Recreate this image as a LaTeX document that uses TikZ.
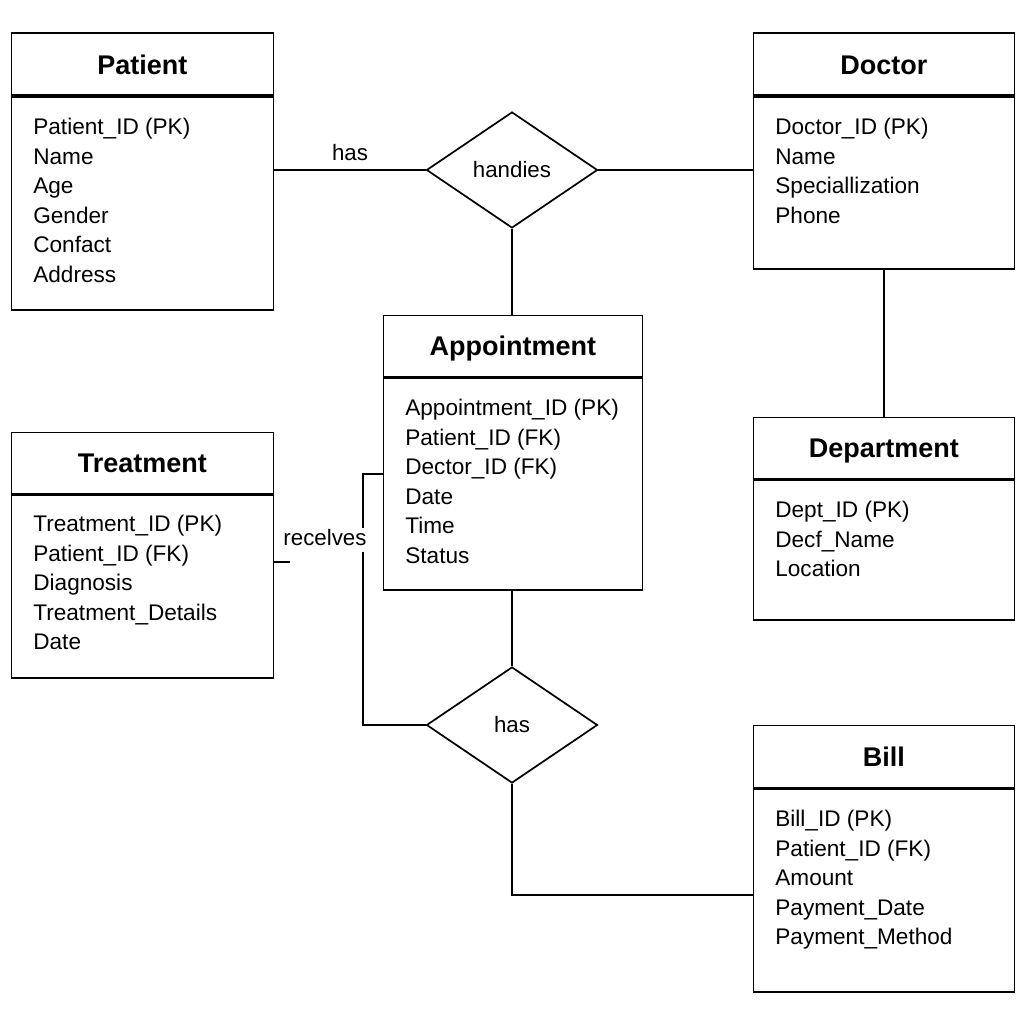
\documentclass[tikz,border=0pt]{standalone}
\usepackage{fontspec}
\usepackage{tikz}
\usetikzlibrary{shapes.geometric}
\setmainfont{Liberation Sans}

\tikzset{%
  every picture/.style={x=1pt, y=-1pt, line width=1.7pt},
  entityhead/.style={draw, rectangle, anchor=north west, inner sep=0pt, text height=19.4pt, text depth=0pt, font=\fontsize{27pt}{30pt}\selectfont\bfseries},
  entitybody/.style={draw, rectangle, anchor=north west, inner sep=0pt},
  attrlist/.style={anchor=north west, inner sep=0pt, align=left, font=\fontsize{22.6pt}{29.6pt}\selectfont, execute at begin node={\rule{0pt}{17pt}}},
  relation/.style={draw, diamond, inner sep=0pt, minimum width=171pt, minimum height=116pt, text height=15.8pt, text depth=0pt, font=\fontsize{22.3pt}{26pt}\selectfont},
  rellabel/.style={inner sep=2pt, fill=white, text height=15.8pt, text depth=4.5pt, font=\fontsize{22.3pt}{26pt}\selectfont},
}

\begin{document}
\begin{tikzpicture}%
\useasboundingbox[fill=white] (0,0) rectangle (1024,1024);%
% entities
\node[entityhead, minimum width=262pt, minimum height=62pt] (patient) at (10.5,32.5) {Patient};%
\node[entitybody, minimum width=262pt, minimum height=213pt] (patient-body) at (patient.south west) {};%
\node[attrlist] (patient-attrs) at ([shift={(22,21)}]patient-body.north west) {Patient\_ID (PK)\\Name\\Age\\Gender\\Confact\\Address};%
\node[entityhead, minimum width=261pt, minimum height=62pt] (doctor) at (752.5,32.5) {Doctor};%
\node[entitybody, minimum width=261pt, minimum height=172pt] (doctor-body) at (doctor.south west) {};%
\node[attrlist] (doctor-attrs) at ([shift={(22,21)}]doctor-body.north west) {Doctor\_ID (PK)\\Name\\Speciallization\\Phone};%
\node[entityhead, minimum width=259pt, minimum height=61pt] (appointment) at (382.5,314.5) {Appointment};%
\node[entitybody, minimum width=259pt, minimum height=212pt] (appointment-body) at (appointment.south west) {};%
\node[attrlist] (appointment-attrs) at ([shift={(22,21)}]appointment-body.north west) {Appointment\_ID (PK)\\Patient\_ID (FK)\\Dector\_ID (FK)\\Date\\Time\\Status};%
\node[entityhead, minimum width=261pt, minimum height=61pt] (department) at (752.5,416.5) {Department};%
\node[entitybody, minimum width=261pt, minimum height=140pt] (department-body) at (department.south west) {};%
\node[attrlist] (department-attrs) at ([shift={(22,21)}]department-body.north west) {Dept\_ID (PK)\\Decf\_Name\\Location};%
\node[entityhead, minimum width=262pt, minimum height=61pt] (treatment) at (10.5,431.5) {Treatment};%
\node[entitybody, minimum width=262pt, minimum height=183pt] (treatment-body) at (treatment.south west) {};%
\node[attrlist] (treatment-attrs) at ([shift={(22,20)}]treatment-body.north west) {Treatment\_ID (PK)\\Patient\_ID (FK)\\Diagnosis\\Treatment\_Details\\Date};%
\node[entityhead, minimum width=261pt, minimum height=62pt] (bill) at (752.5,724.5) {Bill};%
\node[entitybody, minimum width=261pt, minimum height=203pt] (bill-body) at (bill.south west) {};%
\node[attrlist] (bill-attrs) at ([shift={(22,21)}]bill-body.north west) {Bill\_ID (PK)\\Patient\_ID (FK)\\Amount\\Payment\_Date\\Payment\_Method};%
% relationships
\node[relation] (handles) at (512,170) {handies};%
\node[relation] (hasbill) at (512,725) {has};%
\coordinate (billjoin) at (753,895);%
\coordinate (recvtop) at (363,474);%
\coordinate (recvstub) at (290,562);%
\draw (handles.west -| patient-body.east) -- (handles.west);%
\draw (handles.east) -- (handles.east -| doctor-body.west);%
\draw (handles.south) -- (handles.south |- appointment.north);%
\draw (doctor-body.south) -- (department.north -| doctor-body.south);%
\draw (hasbill.north |- appointment-body.south) -- (hasbill.north);%
\draw (hasbill.south) |- (billjoin);%
\draw (recvtop -| appointment-body.west) -- (recvtop) |- (hasbill.west);%
\draw (recvstub -| treatment-body.east) -- (recvstub);%
\node[rellabel] (has-label) at (350,155) {has};%
\node[rellabel] (receives-label) at (325,540) {recelves};%
\end{tikzpicture}
\end{document}
